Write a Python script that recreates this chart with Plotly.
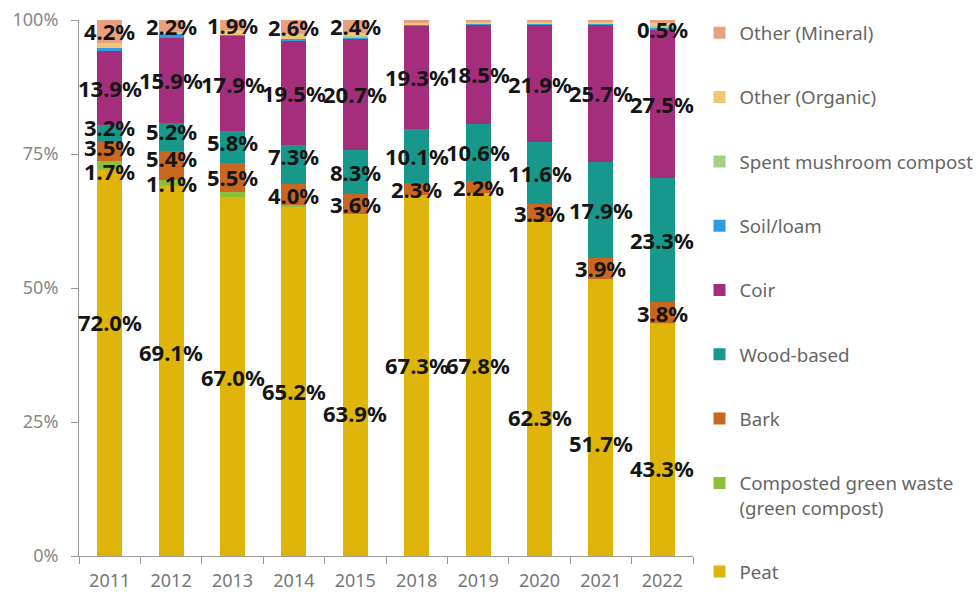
import plotly.graph_objects as go

# Growing-media composition by year (% of total volume)
years = ["2011", "2012", "2013", "2014", "2015", "2018", "2019", "2020", "2021", "2022"]

peat = [72.0, 69.1, 67.0, 65.2, 63.9, 67.3, 67.8, 62.3, 51.7, 43.3]
green_compost = [1.7, 1.1, 0.9, 0.2, 0.0, 0.0, 0.0, 0.0, 0.0, 0.2]
bark = [3.5, 5.4, 5.5, 4.0, 3.6, 2.3, 2.2, 3.3, 3.9, 3.8]
wood_based = [3.2, 5.2, 5.8, 7.3, 8.3, 10.1, 10.6, 11.6, 17.9, 23.3]
coir = [13.9, 15.9, 17.9, 19.5, 20.7, 19.3, 18.5, 21.9, 25.7, 27.5]
soil_loam = [0.5, 0.6, 0.1, 0.3, 0.3, 0.1, 0.1, 0.3, 0.1, 0.5]
mushroom_compost = [0.0, 0.0, 0.0, 0.0, 0.2, 0.0, 0.0, 0.0, 0.0, 0.2]
other_organic = [1.0, 0.5, 0.9, 0.9, 0.6, 0.4, 0.4, 0.2, 0.3, 0.6]
other_mineral = [4.2, 2.2, 1.9, 2.6, 2.4, 0.5, 0.4, 0.4, 0.4, 0.6]

y_ticks = [0, 25, 50, 75, 100]
y_tick_labels = ["0%", "25%", "50%", "75%", "100%"]

GREEN = "Composted green waste<br>(green compost)"

series = [
    ("Peat", peat, "#DFB50C"),
    (GREEN, green_compost, "#8CC03C"),
    ("Bark", bark, "#C9661F"),
    ("Wood-based", wood_based, "#17988A"),
    ("Coir", coir, "#A42E7B"),
    ("Soil/loam", soil_loam, "#2E9DE0"),
    ("Spent mushroom compost", mushroom_compost, "#A6CF88"),
    ("Other (Organic)", other_organic, "#EFC877"),
    ("Other (Mineral)", other_mineral, "#E8A081"),
]

# Years whose segment carries a value label, per series
labelled = {
    "Peat": years,
    GREEN: ["2011", "2012"],
    "Bark": years,
    "Wood-based": years,
    "Coir": years,
    "Soil/loam": ["2022"],
    "Other (Mineral)": ["2011", "2012", "2013", "2014", "2015"],
}

# Height (in %) at which each peat label sits inside its bar
peat_label_y = [43.7, 38.1, 33.4, 30.8, 26.7, 35.6, 35.6, 25.9, 21.1, 16.4]

# Small vertical nudges (in %) that spread crowded labels apart
label_nudge = {
    ("Wood-based", "2011"): 1.2,
    ("Bark", "2011"): 0.8,
    (GREEN, "2011"): -1.0,
    ("Wood-based", "2012"): 1.0,
    ("Bark", "2012"): 1.3,
    ("Wood-based", "2013"): 0.9,
    ("Wood-based", "2014"): 1.5,
}

fig = go.Figure()
annotations = []
base = [0.0] * len(years)
n = len(series)
for k, (name, values, color) in enumerate(series):
    fig.add_trace(go.Bar(
        x=years, y=values, name=name, legendgroup=name, legendrank=n - k,
        marker=dict(color=color, line=dict(width=0)),
        hovertemplate="%{x}: %{y:.1f}%<extra>" + name.replace("<br>", " ") + "</extra>",
    ))
    for i, (yr, v) in enumerate(zip(years, values)):
        if yr in labelled.get(name, []):
            y_pos = peat_label_y[i] if name == "Peat" else base[i] + v / 2
            y_pos += label_nudge.get((name, yr), 0.0)
            # category index keeps numeric-looking year names from being read as positions
            annotations.append(dict(
                x=i, y=y_pos, xref="x", yref="y", showarrow=False,
                text=f"<b>{v:.1f}%</b>",
                font=dict(family="Noto Sans", size=22, color="#151515"),
            ))
        base[i] += v

fig.update_layout(
    width=978, height=597,
    margin=dict(l=79, r=285, t=20, b=41, autoexpand=False),
    paper_bgcolor="white", plot_bgcolor="white",
    barmode="stack", bargap=0.59,
    font=dict(family="Noto Sans", color="#777777", size=16),
    showlegend=True,
    legend=dict(
        x=1.0106, y=1.011, xanchor="left", yanchor="top",
        traceorder="grouped", tracegroupgap=37, valign="top",
        font=dict(family="Noto Sans", size=18.7, color="#666666"),
        itemwidth=30, maxheight=700,
    ),
    annotations=annotations,
    xaxis=dict(
        type="category", range=[-0.5, len(years) - 0.5], automargin=False,
        showline=True, linecolor="#999999", linewidth=1,
        ticks="outside", tickson="boundaries", ticklen=7, tickcolor="#999999",
        tickfont=dict(size=18, color="#777777"), ticklabelstandoff=8,
        showgrid=False, zeroline=False,
    ),
    yaxis=dict(
        range=[0, 100], tickvals=y_ticks, ticktext=y_tick_labels, automargin=False,
        showline=True, linecolor="#999999", linewidth=1,
        ticks="outside", ticklen=7, tickcolor="#999999",
        tickfont=dict(size=18, color="#888888"), ticklabelstandoff=9,
        showgrid=False, zeroline=False,
    ),
)

fig.write_html("out.html")
